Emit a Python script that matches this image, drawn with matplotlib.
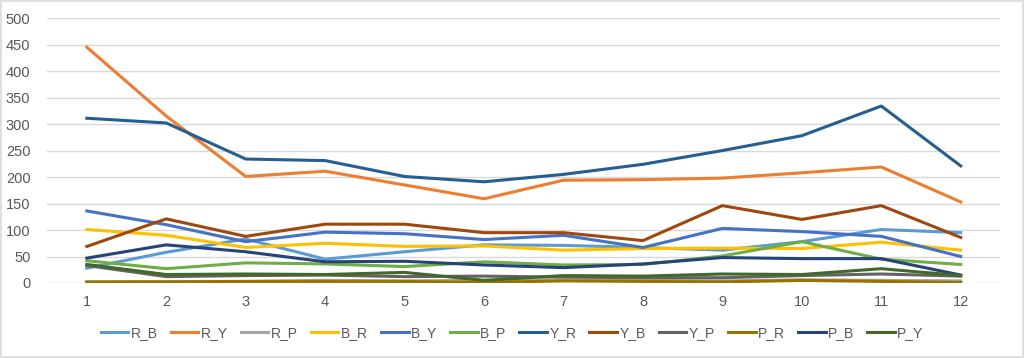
import numpy as np
import matplotlib.pyplot as plt
from matplotlib.patches import Rectangle

months = [1, 2, 3, 4, 5, 6, 7, 8, 9, 10, 11, 12]
series_names = ["R_B", "R_Y", "R_P", "B_R", "B_Y", "B_P", "Y_R", "Y_B", "Y_P", "P_R", "P_B", "P_Y"]

r_b = [28, 58, 83, 45, 59, 72, 71, 67, 62, 78, 101, 95]
r_y = [445, 315, 201, 211, 185, 159, 194, 195, 198, 208, 219, 153]
r_p = [2, 3, 3, 5, 4, 5, 5, 5, 4, 6, 5, 4]
b_r = [101, 90, 67, 75, 69, 70, 62, 65, 66, 65, 77, 62]
b_y = [136, 110, 78, 96, 93, 82, 90, 67, 103, 97, 88, 50]
b_p = [42, 27, 38, 36, 31, 40, 34, 35, 51, 78, 45, 35]
y_r = [311, 302, 234, 231, 201, 191, 205, 224, 250, 278, 334, 221]
y_b = [69, 121, 88, 111, 111, 95, 95, 80, 146, 120, 146, 86]
y_p = [33, 12, 14, 15, 12, 13, 11, 10, 10, 14, 17, 13]
p_r = [2, 2, 3, 3, 3, 1, 4, 3, 2, 5, 3, 1]
p_b = [47, 72, 59, 40, 41, 34, 29, 36, 48, 46, 46, 15]
p_y = [35, 16, 17, 16, 20, 5, 14, 13, 17, 16, 27, 14]

series = [r_b, r_y, r_p, b_r, b_y, b_p, y_r, y_b, y_p, p_r, p_b, p_y]
colors = ["#5B9BD5", "#ED7D31", "#A5A5A5", "#FFC000", "#4472C4", "#70AD47",
          "#255E91", "#9E480E", "#636363", "#997300", "#264478", "#43682B"]

plt.rcParams['font.family'] = ['Liberation Sans', 'DejaVu Sans']

fig = plt.figure(figsize=(10.24, 3.58), dpi=100)
ax = fig.add_axes([0.046, 0.2095, 0.931, 0.740])

for name, vals, c in zip(series_names, series, colors):
    ax.plot(months, vals, color=c, lw=2.2, label=name, solid_joinstyle='round')

ax.set_xlim(0.5, 12.5)
ax.set_ylim(0, 500)
ax.set_yticks(np.arange(0, 501, 50))
ax.set_xticks(months)
ax.grid(axis='y', color='#D9D9D9', lw=1)
ax.set_axisbelow(True)
for s in ax.spines.values():
    s.set_visible(False)
ax.tick_params(length=0, labelsize=10.5, colors='#595959', pad=9)
ax.tick_params(axis='y', pad=12)

leg = fig.legend(loc='center', bbox_to_anchor=(0.5, 0.07), ncol=12, frameon=False,
                 fontsize=10, handlelength=2.0, columnspacing=0.95, handletextpad=0.15)
for t in leg.get_texts():
    t.set_color('#595959')

fig.patches.append(Rectangle((0.001, 0.003), 0.998, 0.994, transform=fig.transFigure,
                             fill=False, edgecolor='#D9D9D9', lw=1.2))

fig.savefig("out.png", dpi=100)
